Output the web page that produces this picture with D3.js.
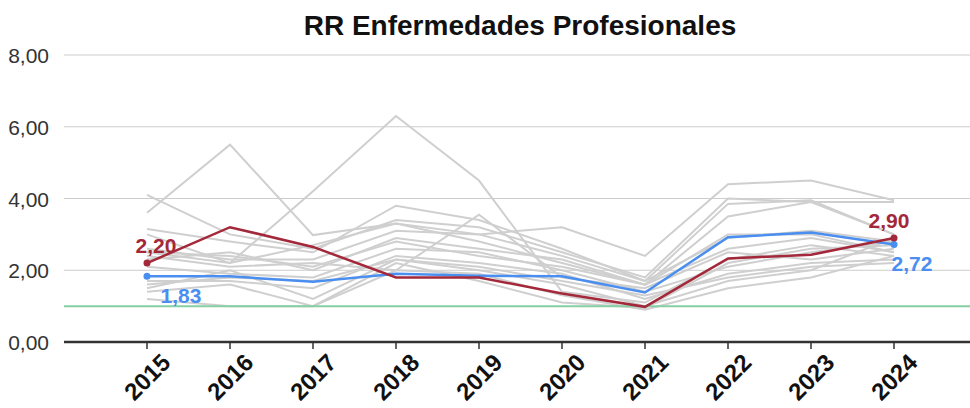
<!DOCTYPE html>
<html><head><meta charset="utf-8">
<script src="https://cdn.jsdelivr.net/npm/d3@7"></script>
<style>body{margin:0;background:#fff;} svg{display:block;}</style>
</head><body><svg id="c" width="970" height="408"></svg>
<script>
const years = ["2015","2016","2017","2018","2019","2020","2021","2022","2023","2024"];
const yTicks = [0,2,4,6,8];
const redSeries  = [2.20,3.20,2.65,1.80,1.80,1.35,0.98,2.33,2.43,2.90];
const blueSeries = [1.83,1.83,1.68,1.90,1.85,1.83,1.38,2.92,3.05,2.72];
const reference = 1;
const grayLines = [
  [4.1,3.0,2.6,3.4,3.2,2.5,1.8,4.0,3.9,3.9],
  [3.6,5.5,2.98,3.3,2.8,2.2,1.6,3.5,3.9,3.0],
  [2.5,2.2,4.2,6.3,4.5,1.4,1.1,2.3,2.7,2.4],
  [3.15,2.8,2.5,3.8,3.4,2.6,1.7,2.9,3.1,2.8],
  [2.6,2.3,2.3,3.1,3.0,3.2,2.4,4.4,4.5,3.95],
  [2.4,2.1,2.2,2.0,3.55,1.8,1.5,2.5,2.3,2.6],
  [2.3,2.5,2.0,2.9,2.6,2.3,1.6,3.0,3.0,2.5],
  [2.1,1.9,1.8,2.6,2.5,2.0,1.4,2.1,2.5,2.8],
  [1.7,1.7,1.5,2.4,2.2,1.9,1.2,1.9,2.2,2.3],
  [1.5,2.0,1.2,2.3,2.0,1.6,1.0,1.7,2.0,2.9],
  [1.4,1.6,1.0,2.0,1.9,1.3,0.9,1.5,1.8,2.4],
  [1.2,1.0,1.0,2.2,1.7,1.1,0.95,2.2,2.6,2.7],
  [3.0,2.2,2.7,3.3,3.0,2.4,1.7,3.85,3.95,3.0],
  [2.5,2.4,2.1,2.8,2.4,2.1,1.6,2.6,2.9,2.5],
  [1.6,1.8,1.7,2.3,2.1,1.7,1.3,1.8,2.1,2.2]
];
const fmt = v => v.toFixed(2).replace(".", ",");
const FONT = "Liberation Sans, Arial, sans-serif";

const svg = d3.select("#c");
const mLeft = 64, mRight = 970, mTop = 55, mBottom = 342;
const x = d3.scalePoint().domain(years).range([mLeft, 977]).padding(1);
const y = d3.scaleLinear().domain([0,8]).range([mBottom, mTop]);

svg.append("text").attr("x", 520).attr("y", 35).attr("text-anchor","middle")
  .attr("font-family",FONT).attr("font-weight","bold")
  .attr("font-size",28).attr("fill","#111").text("RR Enfermedades Profesionales");

// grid
svg.append("g").selectAll("line").data(yTicks.filter(t=>t>0)).join("line")
  .attr("x1", mLeft).attr("x2", mRight).attr("y1", d=>y(d)).attr("y2", d=>y(d))
  .attr("stroke","#cccccc").attr("stroke-width",1);
svg.append("g").selectAll("text").data(yTicks).join("text")
  .attr("x", 49).attr("y", d=>y(d)+8).attr("text-anchor","end")
  .attr("font-family",FONT).attr("font-size",21).attr("fill","#333")
  .text(d=>fmt(d));

const line = d3.line().x((d,i)=>x(years[i])).y(d=>y(d));
svg.append("g").selectAll("path").data(grayLines).join("path")
  .attr("d", line).attr("fill","none").attr("stroke","#cfcfcf").attr("stroke-width",2);

svg.append("line").attr("x1", mLeft).attr("x2", mRight).attr("y1", y(reference)).attr("y2", y(reference))
  .attr("stroke","#86cfa3").attr("stroke-width",2);

function drawSeries(data, color){
  svg.append("path").attr("d", line(data)).attr("fill","none").attr("stroke",color).attr("stroke-width",2.5);
  [0, data.length-1].forEach(i=>{
    svg.append("circle").attr("cx", x(years[i])).attr("cy", y(data[i])).attr("r",3.5).attr("fill",color);
  });
}
drawSeries(blueSeries, "#4a8ef0");
drawSeries(redSeries, "#a3283a");

const lbl = (xx, yy, t, color) => svg.append("text").attr("x", xx).attr("y", yy).attr("text-anchor","middle")
  .attr("font-family",FONT).attr("font-weight","bold").attr("font-size",21).attr("fill",color).text(t);
lbl(x("2015")+9, y(redSeries[0])-10, fmt(redSeries[0]), "#a3283a");
lbl(x("2015")+34, y(blueSeries[0])+27, fmt(blueSeries[0]), "#4a8ef0");
lbl(x("2024")-5, y(redSeries[9])-10, fmt(redSeries[9]), "#a3283a");
lbl(x("2024")+18, y(blueSeries[9])+27, fmt(blueSeries[9]), "#4a8ef0");

// axis
svg.append("line").attr("x1", mLeft).attr("x2", mRight).attr("y1", mBottom).attr("y2", mBottom)
  .attr("stroke","#333").attr("stroke-width",2.5);
const xa = svg.append("g");
xa.selectAll("line").data(years).join("line")
  .attr("x1", d=>x(d)).attr("x2", d=>x(d)).attr("y1", mBottom).attr("y2", mBottom+7)
  .attr("stroke","#333").attr("stroke-width",1.5);
xa.selectAll("text").data(years).join("text")
  .attr("transform", d=>`translate(${x(d)+25},${mBottom+22}) rotate(-45)`)
  .attr("text-anchor","end").attr("font-family",FONT).attr("font-weight","bold")
  .attr("font-size",24).attr("fill","#111").text(d=>d);
</script></body></html>
